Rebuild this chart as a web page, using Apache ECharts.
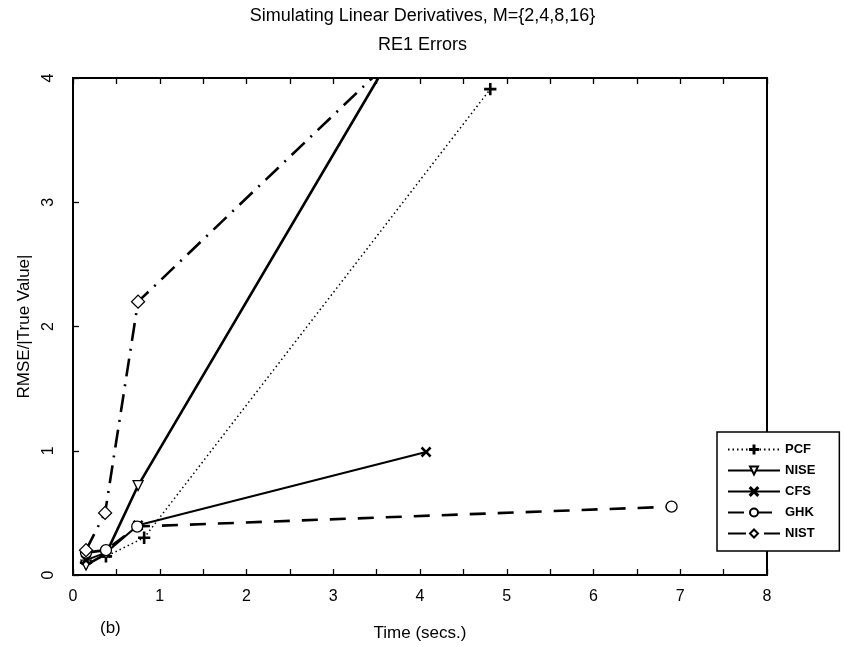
<!DOCTYPE html>
<html>
<head>
<meta charset="utf-8">
<script src="https://cdn.jsdelivr.net/npm/echarts@6/dist/echarts.min.js"></script>
<style>
html,body{margin:0;padding:0;background:#fff;}
#chart{width:845px;height:647px;}
</style>
</head>
<body>
<div id="chart"></div>
<script>
// ---- data (x = time in secs, y = RMSE/|True Value|) ----
const seriesNames = ['PCF', 'NISE', 'CFS', 'GHK', 'NIST'];
const pcfData  = [[0.15, 0.10], [0.38, 0.15], [0.82, 0.30], [4.81, 3.91]];
const niseData = [[0.15, 0.08], [0.38, 0.17], [0.75, 0.72], [3.52, 4.00]];
const cfsData  = [[0.15, 0.12], [0.38, 0.18], [0.75, 0.40], [4.07, 0.99]];
const ghkData  = [[0.15, 0.18], [0.38, 0.20], [0.74, 0.39], [6.90, 0.55]];
const nistData = [[0.15, 0.20], [0.37, 0.50], [0.75, 2.20], [3.45, 4.00]];
const xTicks = [0, 1, 2, 3, 4, 5, 6, 7, 8];
const yTicks = [0, 1, 2, 3, 4];
const titleText = 'Simulating Linear Derivatives, M={2,4,8,16}';
const subTitleText = 'RE1 Errors';
const xName = 'Time (secs.)';
const yName = 'RMSE/|True Value|';
const panelTag = '(b)';

const yMax = yTicks[yTicks.length - 1];
const FONT = '"Liberation Sans Narrow", "Liberation Sans", Arial, sans-serif';

const plusPath = 'path://M4.4,0H5.6V4.4H10V5.6H5.6V10H4.4V5.6H0V4.4H4.4Z';
const crossPath = 'path://M1,0L5,4L9,0L10,1L6,5L10,9L9,10L5,6L1,10L0,9L4,5L0,1Z';
const triPath = 'path://M0,0H10L5,10Z';

function items(arr) {
  return arr.map(p => p[1] >= yMax ? { value: p, symbol: 'none' } : { value: p });
}

const styles = {
  PCF:  { symbol: plusPath, size: 11, line: { width: 1.5, type: [1.5, 3] }, fill: '#000' },
  NISE: { symbol: triPath, size: 10, line: { width: 2.6, type: 'solid' }, fill: '#fff' },
  CFS:  { symbol: crossPath, size: 9, line: { width: 2, type: 'solid' }, fill: '#000' },
  GHK:  { symbol: 'circle', size: 11, line: { width: 2.6, type: [16, 12] }, fill: '#fff' },
  NIST: { symbol: 'diamond', size: 13, line: { width: 2.6, type: [18, 8, 2, 8] }, fill: '#fff' }
};
const dataMap = { PCF: pcfData, NISE: niseData, CFS: cfsData, GHK: ghkData, NIST: nistData };

const series = seriesNames.map(n => ({
  name: n,
  type: 'line',
  data: items(dataMap[n]),
  symbol: styles[n].symbol,
  symbolSize: styles[n].size,
  showSymbol: true,
  clip: true,
  lineStyle: { color: '#000', width: styles[n].line.width, type: styles[n].line.type },
  itemStyle: { color: styles[n].fill, borderColor: '#000', borderWidth: 1.3 },
  emphasis: { disabled: true },
  animation: false
}));

const chart = echarts.init(document.getElementById('chart'), null, { renderer: 'canvas' });
chart.setOption({
  backgroundColor: '#fff',
  animation: false,
  title: {
    text: titleText + '\n' + subTitleText,
    left: 'center',
    top: -3,
    textStyle: { fontFamily: FONT, fontSize: 18, fontWeight: 'normal', color: '#000', lineHeight: 29 }
  },
  grid: { left: 73, right: 78, top: 78, bottom: 70, show: true, borderColor: '#000', borderWidth: 2, backgroundColor: 'transparent' },
  legend: {
    orient: 'vertical',
    left: 717,
    top: 432,
    data: seriesNames,
    itemWidth: 52,
    itemHeight: 10,
    itemGap: 8,
    padding: [11, 24, 11, 10],
    backgroundColor: '#fff',
    borderColor: '#000',
    borderWidth: 1.5,
    textStyle: { fontFamily: FONT, fontSize: 13, fontWeight: 'bold', color: '#000' },
    selectedMode: false
  },
  xAxis: [{
    type: 'value', min: xTicks[0], max: xTicks[xTicks.length - 1], interval: 1,
    name: xName, nameLocation: 'middle', nameGap: 50,
    nameTextStyle: { fontFamily: FONT, fontSize: 17, color: '#000' },
    axisLine: { show: true, lineStyle: { color: '#000', width: 2 } },
    axisTick: { show: true, inside: true, length: 6, lineStyle: { color: '#000', width: 1.3 } },
    minorTick: { show: true, splitNumber: 2, length: 6, lineStyle: { color: '#000', width: 1.3 } },
    axisLabel: { fontFamily: FONT, fontSize: 16, color: '#000', margin: 14 },
    splitLine: { show: false }
  }, {
    type: 'value', position: 'top', min: xTicks[0], max: xTicks[xTicks.length - 1], interval: 1,
    axisLine: { show: true, lineStyle: { color: '#000', width: 2 } },
    axisTick: { show: true, inside: true, length: 6, lineStyle: { color: '#000', width: 1.3 } },
    minorTick: { show: true, splitNumber: 2, length: 6, lineStyle: { color: '#000', width: 1.3 } },
    axisLabel: { show: false },
    splitLine: { show: false }
  }],
  yAxis: [{
    type: 'value', min: yTicks[0], max: yMax, interval: 1,
    name: yName, nameLocation: 'middle', nameGap: 34,
    nameTextStyle: { fontFamily: FONT, fontSize: 17, color: '#000' },
    axisLine: { show: true, lineStyle: { color: '#000', width: 2 } },
    axisTick: { show: true, inside: true, length: 6, lineStyle: { color: '#000', width: 1.3 } },
    axisLabel: { fontFamily: FONT, fontSize: 16, color: '#000', margin: 16, rotate: 90 },
    splitLine: { show: false }
  }],
  graphic: [{
    type: 'text', left: 100, top: 620,
    style: { text: panelTag, font: '17px ' + FONT, fill: '#000' }
  }],
  series: series
});
</script>
</body>
</html>
